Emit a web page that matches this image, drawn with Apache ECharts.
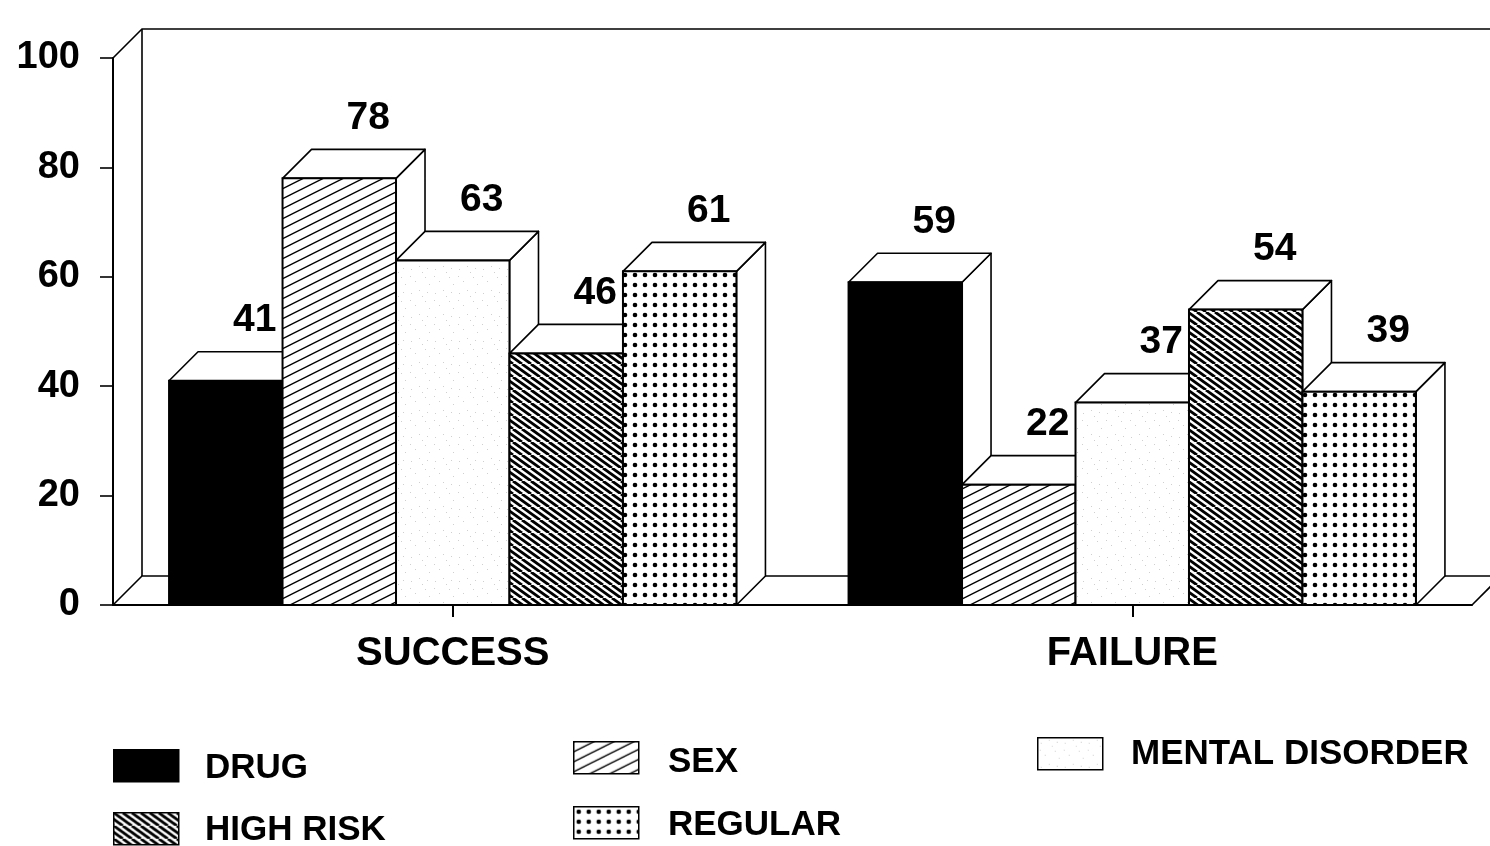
<!DOCTYPE html>
<html>
<head>
<meta charset="utf-8">
<script src="https://cdn.jsdelivr.net/npm/echarts@6/dist/echarts.min.js"></script>
<style>
  html, body { margin: 0; padding: 0; background: #fff; }
  #chart { width: 1490px; height: 846px; }
</style>
</head>
<body>
<div id="chart"></div>
<script>
// Outcome groups and the five offender types
const categories = ['SUCCESS', 'FAILURE'];
const seriesNames = ['DRUG', 'SEX', 'MENTAL DISORDER', 'HIGH RISK', 'REGULAR'];
const drugValues = [41, 59];
const sexValues = [78, 22];
const mentalValues = [63, 37];
const highRiskValues = [46, 54];
const regularValues = [61, 39];
const yAxisMin = 0;
const yAxisMax = 100;
const yAxisStep = 20;

const seriesValues = [drugValues, sexValues, mentalValues, highRiskValues, regularValues];

const FONT = '"Liberation Sans", Arial, Helvetica, sans-serif';
const DEPTH = 29;          // 3D offset of the box tops and sides
const GROUP_RATIO = 0.835; // share of each category band taken by its five bars

// ---- fill textures -------------------------------------------------------
function makeTile(w, h, draw) {
  const c = document.createElement('canvas');
  c.width = w; c.height = h;
  const ctx = c.getContext('2d');
  ctx.fillStyle = '#fff';
  ctx.fillRect(0, 0, w, h);
  draw(ctx, w, h);
  return { image: c, repeat: 'repeat' };
}

// "/" hatching, gentle slope, thin lines
const sexFill = makeTile(20, 10, (ctx, w, h) => {
  ctx.strokeStyle = '#000'; ctx.lineWidth = 1.4;
  for (let k = -1; k <= 1; k++) {
    ctx.beginPath(); ctx.moveTo(0, h + k * h); ctx.lineTo(w, k * h); ctx.stroke();
  }
});

// "\" hatching, bold stripes
const highRiskFill = makeTile(18, 13, (ctx, w, h) => {
  ctx.strokeStyle = '#000'; ctx.lineWidth = 2.8;
  for (let k = -2; k <= 2; k++) {
    const x = k * w / 2;
    ctx.beginPath(); ctx.moveTo(x, 0); ctx.lineTo(x + w, h); ctx.stroke();
  }
});

// dot grid
const regularFill = makeTile(10, 10, (ctx) => {
  ctx.fillStyle = '#000';
  ctx.beginPath(); ctx.arc(5, 5, 2.3, 0, Math.PI * 2); ctx.fill();
});

// near-white with a faint stipple
const mentalFill = makeTile(24, 24, (ctx) => {
  ctx.fillStyle = '#cfcfcf';
  [[3, 5], [11, 2], [17, 13], [7, 17], [14, 8], [21, 20], [2, 12], [19, 4]].forEach(p => ctx.fillRect(p[0], p[1], 1, 1));
});

const seriesFills = ['#000', sexFill, mentalFill, highRiskFill, regularFill];

// ---- renderers -----------------------------------------------------------
function frameRenderer(params) {
  const cs = params.coordSys;
  const L = cs.x, R = cs.x + cs.width, T = cs.y, B = cs.y + cs.height, d = DEPTH;
  const st = { stroke: '#000', lineWidth: 1.6, fill: null };
  return {
    type: 'group',
    children: [
      { type: 'polyline', shape: { points: [[L, T], [L + d, T - d], [R + d + 20, T - d]] }, style: st },
      { type: 'line', shape: { x1: L + d, y1: T - d, x2: L + d, y2: B - d }, style: st },
      { type: 'polyline', shape: { points: [[L, B], [L + d, B - d], [R + d + 20, B - d]] }, style: st },
      { type: 'line', shape: { x1: R, y1: B, x2: R + d, y2: B - d }, style: st }
    ]
  };
}

function makeBarRenderer(idx, fill) {
  return function (params, api) {
    const cat = api.value(0);
    const val = api.value(1);
    const band = api.size([1, 0])[0];
    const groupW = band * GROUP_RATIO;
    const barW = groupW / seriesNames.length;
    const base = api.coord([cat, 0]);
    const top = api.coord([cat, val]);
    const x0 = base[0] - groupW / 2 + idx * barW;
    const x1 = x0 + barW;
    const yb = base[1], yt = top[1], d = DEPTH;
    const face = { fill: '#fff', stroke: '#000', lineWidth: 1.6, lineJoin: 'round' };
    return {
      type: 'group',
      children: [
        { type: 'polygon', shape: { points: [[x1, yb], [x1 + d, yb - d], [x1 + d, yt - d], [x1, yt]] }, style: face },
        { type: 'polygon', shape: { points: [[x0, yt], [x0 + d, yt - d], [x1 + d, yt - d], [x1, yt]] }, style: face },
        { type: 'rect', shape: { x: x0, y: yt, width: barW, height: yb - yt }, style: { fill: fill, stroke: '#000', lineWidth: 2 } },
        {
          type: 'text', x: (x0 + x1) / 2 + d, y: yt - d - 31, z2: 100,
          style: { text: String(val), fill: '#000', fontFamily: FONT, fontWeight: 'bold', fontSize: 39, align: 'center', verticalAlign: 'middle' }
        }
      ]
    };
  };
}

// ---- legend (3 columns x 2 rows) ------------------------------------------
const legendSlots = [
  { bx: 113, by: 749, tx: 205, ty: 768 },
  { bx: 573, by: 741, tx: 668, ty: 762 },
  { bx: 1037, by: 737, tx: 1131, ty: 754 },
  { bx: 113, by: 812, tx: 205, ty: 830 },
  { bx: 573, by: 806, tx: 668, ty: 825 }
];
const legendGraphics = [];
seriesNames.forEach((name, i) => {
  const s = legendSlots[i];
  legendGraphics.push({
    type: 'rect', left: s.bx, top: s.by, silent: true,
    shape: { width: 65, height: 32 },
    style: { fill: seriesFills[i], stroke: '#000', lineWidth: 1.5 }
  });
  legendGraphics.push({
    type: 'text', x: s.tx, y: s.ty, silent: true,
    style: { text: name, fill: '#000', fontFamily: FONT, fontWeight: 'bold', fontSize: 35, align: 'left', verticalAlign: 'middle' }
  });
});

// ---- chart -----------------------------------------------------------------
const chart = echarts.init(document.getElementById('chart'), null, { renderer: 'canvas' });

const series = [{
  type: 'custom', name: 'frame', silent: true, z: 1,
  data: [[0, 0]],
  renderItem: frameRenderer
}];
seriesNames.forEach((name, i) => {
  series.push({
    type: 'custom', name: name, silent: true, z: 2,
    data: categories.map((c, ci) => [ci, seriesValues[i][ci]]),
    renderItem: makeBarRenderer(i, seriesFills[i])
  });
});

chart.setOption({
  animation: false,
  backgroundColor: '#fff',
  grid: { left: 113, right: 18, top: 58, bottom: 241, containLabel: false },
  xAxis: {
    type: 'category',
    data: categories,
    axisLine: { show: true, lineStyle: { color: '#000', width: 2 } },
    axisTick: { show: true, alignWithLabel: true, length: 12, lineStyle: { color: '#000', width: 2 } },
    axisLabel: { color: '#000', fontFamily: FONT, fontWeight: 'bold', fontSize: 40, margin: 29 },
    splitLine: { show: false }
  },
  yAxis: {
    type: 'value',
    min: yAxisMin, max: yAxisMax, interval: yAxisStep,
    axisLine: { show: true, lineStyle: { color: '#000', width: 2 } },
    axisTick: { show: true, length: 13, lineStyle: { color: '#000', width: 1.6 } },
    axisLabel: { color: '#000', fontFamily: FONT, fontWeight: 'bold', fontSize: 38, margin: 33 },
    splitLine: { show: false }
  },
  graphic: legendGraphics,
  series: series
});
</script>
</body>
</html>
